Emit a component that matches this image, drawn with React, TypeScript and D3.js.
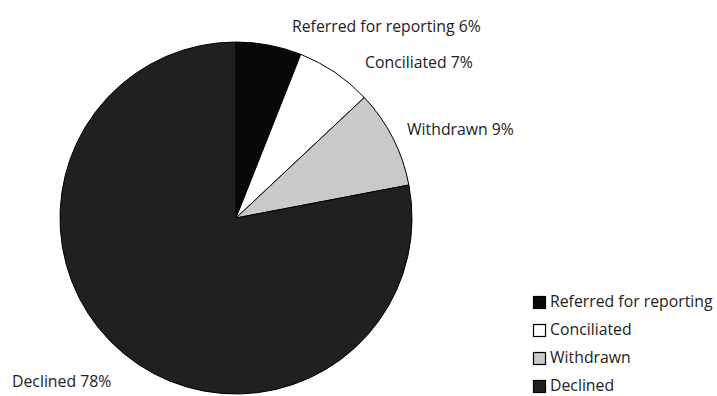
import React from "react";
import * as d3 from "d3";

const categories = ["Referred for reporting", "Conciliated", "Withdrawn", "Declined"];
const values = [6, 7, 9, 78];
const colors = ["#080808", "#ffffff", "#c9c9c9", "#202020"];

const W = 717;
const H = 396;
const cx = 236;
const cy = 218;
const R = 176;
const FONT = "'Open Sans', sans-serif";
const FS = 15.8;

// label anchor positions (x, baseline y)
const labelPos: [number, number][] = [
  [292, 32],
  [365, 68],
  [407, 135],
  [12, 387],
];

export default function App() {
  const pie = d3.pie<number>().sort(null).value((d) => d);
  const arcs = pie(values);
  const arcGen = d3.arc<d3.PieArcDatum<number>>().innerRadius(0).outerRadius(R);

  const legendX = 533;
  const legendY0 = 302;
  const legendStep = 28;

  return (
    <svg width={W} height={H} style={{ position: "absolute", left: 0, top: 0, background: "#fff" }}>
      <g transform={`translate(${cx},${cy})`}>
        {arcs.map((a, i) => (
          <path key={i} d={arcGen(a) || ""} fill={colors[i]} stroke="#000" strokeWidth={1} />
        ))}
      </g>
      {categories.map((c, i) => (
        <text
          key={"l" + i}
          x={labelPos[i][0]}
          y={labelPos[i][1]}
          fontFamily={FONT}
          fontSize={FS}
          fill="#222"
        >
          {`${c} ${values[i]}%`}
        </text>
      ))}
      {categories.map((c, i) => (
        <g key={"g" + i} transform={`translate(${legendX},${legendY0 + i * legendStep})`}>
          <rect x={0.5} y={-5.5} width={12} height={12} fill={colors[i]} stroke="#000" strokeWidth={1.2} />
          <text x={17} y={5} fontFamily={FONT} fontSize={FS} fill="#222">
            {c}
          </text>
        </g>
      ))}
    </svg>
  );
}
